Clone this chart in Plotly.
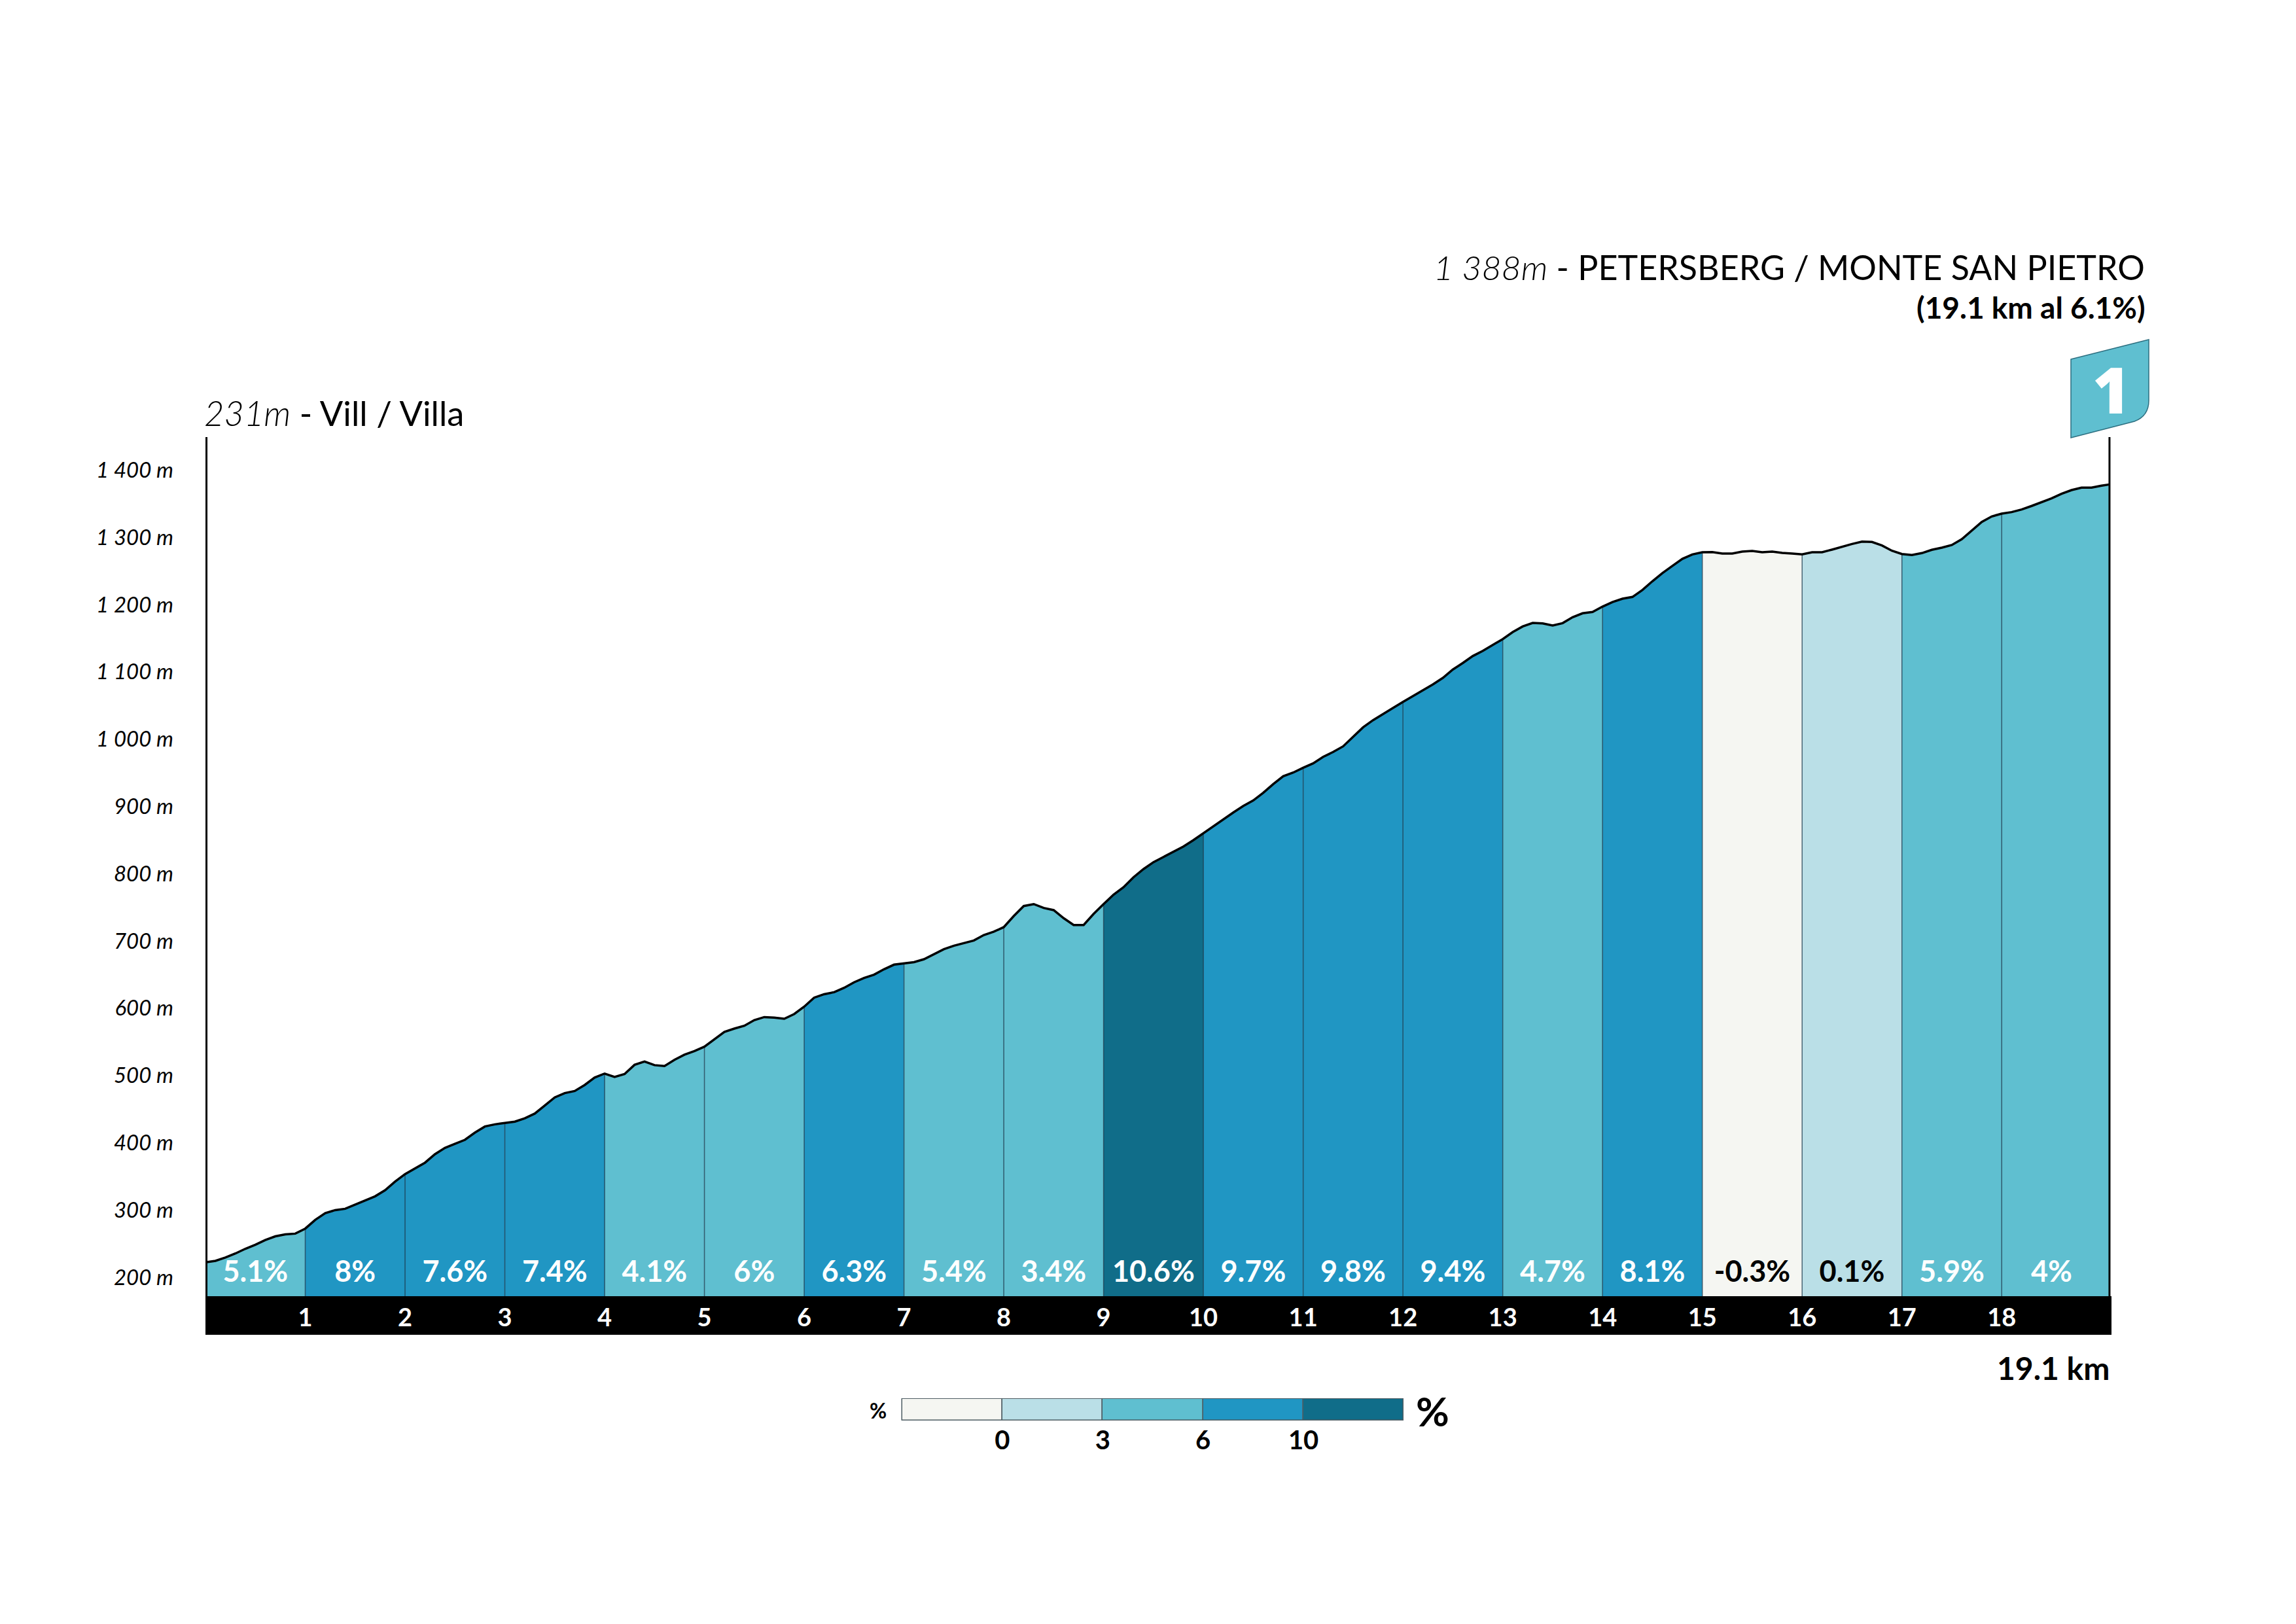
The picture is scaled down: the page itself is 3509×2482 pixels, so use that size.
import plotly.graph_objects as go

W, H = 3509, 2482

ELEV = [
    232, 234, 239, 245, 252, 258, 265, 270.5, 273.5, 274.5,
    282, 295, 305, 309.5, 311.5, 317.7, 324.5, 330, 339, 351.8,
    363, 371.5, 380, 392.6, 402, 408, 414, 424.7, 433.8, 437,
    438.6, 441, 446, 453, 465, 477, 483.5, 486.5, 495.5, 506.5,
    512.5, 507.5, 511.8, 525.5, 530.5, 525, 523.7, 533, 540.5, 546,
    552.5, 563.5, 574.5, 579.4, 583.6, 592, 596.5, 595.7, 594, 601,
    612, 625.4, 630.5, 633.5, 640, 648.2, 654.6, 659.5, 667.6, 674.4,
    676.3, 678.2, 682.5, 690, 697.4, 702.6, 706.5, 710.4, 718.5, 723.4,
    730.2, 746.7, 761.6, 764.5, 758.7, 755.5, 743.5, 733.4, 733.4, 749.9,
    764.5, 778.5, 789.5, 804.4, 816.5, 826.8, 834.5, 842, 850, 859.5,
    869.9, 879.7, 890.4, 900.7, 910.4, 918.6, 929.9, 942.9, 954.6, 960,
    967.2, 973.7, 983.4, 990.6, 999, 1012.6, 1027.2, 1037.9, 1046.5, 1056,
    1065.1, 1073.6, 1082.3, 1091.1, 1100.8, 1113.2, 1122.9, 1133.3, 1141, 1149.4,
    1158.5, 1168.9, 1177.3, 1182.5, 1181.8, 1178.6, 1182.2, 1191, 1196.8, 1198.8,
    1206.8, 1213.6, 1218.5, 1221.1, 1231.5, 1244.5, 1256.5, 1267.2, 1277.8, 1284.3,
    1287.6, 1287.8, 1285.6, 1285.6, 1288.5, 1289.5, 1287.6, 1288.5, 1286.6, 1285.6,
    1284.4, 1287.6, 1287.6, 1291.5, 1296, 1299.9, 1303.4, 1302.8, 1297.6, 1289.8,
    1285, 1283.4, 1286.3, 1291.2, 1294.4, 1298.3, 1307, 1320, 1332.7, 1340.8,
    1345, 1347.3, 1351.2, 1356.4, 1362.2, 1367.7, 1374.5, 1380, 1383.6, 1383.6,
    1386.5, 1388.4,
]
KM = [0.01] + [i / 10 for i in range(1, 191)] + [19.08]

GRADES = [5.1, 8, 7.6, 7.4, 4.1, 6, 6.3, 5.4, 3.4, 10.6, 9.7, 9.8, 9.4, 4.7, 8.1, -0.3, 0.1, 5.9, 4]
BIN_EDGES = [0, 3, 6, 10]
BIN_COLORS = ["#F5F6F2", "#BADFE7", "#5FBFD0", "#2096C3", "#106D89"]
Y_TICKS = [200, 300, 400, 500, 600, 700, 800, 900, 1000, 1100, 1200, 1300, 1400]
Y_LABELS = ["200 m", "300 m", "400 m", "500 m", "600 m", "700 m", "800 m", "900 m",
            "1 000 m", "1 100 m", "1 200 m", "1 300 m", "1 400 m"]
TOTAL_KM = 19.1

FONT = "Lato"

# Pixel layout of the picture
PX_LEFT, PX_RIGHT, PX_TOP, PX_BOTTOM = 314, 3227, 668, 2040
Y_MIN, Y_MAX = 124.1, 1458.8
BASE = 181.5
M_PER_PX = (Y_MAX - Y_MIN) / (PX_BOTTOM - PX_TOP)
LABEL_SHIFT = 10 * M_PER_PX
GRADE_TEXT_Y = 214


def fx(p):
    return p / W


def fy(p):
    return 1 - p / H


def grade_color(g):
    for edge, col in zip(BIN_EDGES, BIN_COLORS):
        if g <= edge:
            return col
    return BIN_COLORS[-1]


fig = go.Figure()

# coloured kilometre segments
for k, g in enumerate(GRADES):
    last = k == len(GRADES) - 1
    xs, ys = [], []
    for x, e in zip(KM, ELEV):
        if k <= x and (x <= k + 1 or last):
            xs.append(x)
            ys.append(e)
    fig.add_trace(go.Scatter(
        x=[xs[0]] + xs + [xs[-1]], y=[BASE] + ys + [BASE],
        mode="lines", fill="toself", fillcolor=grade_color(g),
        line=dict(width=0), hoverinfo="skip", showlegend=False))

# kilometre separators
sep_x, sep_y = [], []
for x, e in zip(KM, ELEV):
    if abs(x - round(x)) < 1e-9 and 1 <= x <= 18:
        sep_x += [x, x, None]
        sep_y += [BASE, e, None]
fig.add_trace(go.Scatter(x=sep_x, y=sep_y, mode="lines",
                         line=dict(color="rgba(25,55,75,0.75)", width=1.5),
                         hoverinfo="skip", showlegend=False))

# profile line
fig.add_trace(go.Scatter(x=KM, y=ELEV, mode="lines",
                         line=dict(color="#000000", width=3.5),
                         hoverinfo="skip", showlegend=False))

# grade labels
fig.add_trace(go.Scatter(
    x=[(i + min(i + 1, KM[-1])) / 2 for i in range(len(GRADES))],
    y=[GRADE_TEXT_Y] * len(GRADES),
    mode="text",
    text=[f"{g:g}%" for g in GRADES],
    textposition="middle center",
    textfont=dict(family=FONT, size=45, weight=700,
                  color=["#000000" if g <= 3 else "#FFFFFF" for g in GRADES]),
    hoverinfo="skip", showlegend=False))

# hidden trace that carries the elevation tick axis
fig.add_trace(go.Scatter(x=[0], y=[200], yaxis="y2", mode="markers",
                         marker=dict(opacity=0), hoverinfo="skip", showlegend=False))

# gradient key
fig.add_trace(go.Bar(
    x=[i + 0.5 for i in range(len(BIN_COLORS))], y=[1] * len(BIN_COLORS),
    width=1, xaxis="x2", yaxis="y3",
    marker=dict(color=BIN_COLORS, line=dict(color="#4d5c63", width=1.5)),
    hoverinfo="skip", showlegend=False))

shapes = [
    dict(type="rect", xref="x", yref="y", x0=0, x1=TOTAL_KM, y0=Y_MIN, y1=BASE,
         fillcolor="#000000", line=dict(width=0), layer="below"),
    dict(type="line", xref="x", yref="y", x0=KM[0], x1=KM[0], y0=BASE, y1=Y_MAX,
         line=dict(color="#000000", width=3)),
    dict(type="line", xref="x", yref="y", x0=KM[-1], x1=KM[-1], y0=BASE, y1=Y_MAX,
         line=dict(color="#000000", width=3)),
    dict(type="path", xref="paper", yref="paper",
         path=(f"M {fx(3165)} {fy(549)} L {fx(3284)} {fy(519)} L {fx(3284)} {fy(612)} "
               f"Q {fx(3284)} {fy(636)} {fx(3262)} {fy(644)} L {fx(3165)} {fy(669)} Z"),
         fillcolor=BIN_COLORS[2], line=dict(color="#2d6f80", width=1.5)),
]


def note(text, x, y, size, anchor="left", color="#000000", weight=400, family=FONT, **kw):
    return dict(text=text, x=fx(x), y=fy(y), xref="paper", yref="paper",
                xanchor=anchor, yanchor="middle", showarrow=False,
                font=dict(family=family, size=size, color=color, weight=weight), **kw)


annotations = [
    note('<i><span style="font-weight:300">231m</span></i> - Vill / Villa', 310, 630, 52.5),
    note('<i><span style="font-weight:300">1 388m</span></i> - PETERSBERG / MONTE SAN PIETRO',
         3280, 408, 52, anchor="right"),
    note("(19.1 km al 6.1%)", 3281, 470, 46, anchor="right", weight=700),
    note("19.1 km", 3226, 2090, 48, anchor="right", weight=700),
    note("1", 3226, 594, 98, anchor="center", color="#FFFFFF", weight=800, family="Open Sans"),
    note("%", 1342, 2155, 32, anchor="center", weight=700),
    note("%", 2189, 2156, 62, anchor="center", weight=700),
]

fig.update_layout(
    width=W, height=H,
    margin=dict(l=0, r=0, t=0, b=0, pad=0, autoexpand=False),
    paper_bgcolor="#FFFFFF", plot_bgcolor="rgba(0,0,0,0)",
    showlegend=False, bargap=0,
    shapes=shapes, annotations=annotations,
    font=dict(family=FONT, color="#000000"),
    xaxis=dict(domain=[fx(PX_LEFT), fx(PX_RIGHT)], range=[0, TOTAL_KM],
               tickmode="array", tickvals=list(range(1, 19)),
               ticktext=[str(i) for i in range(1, 19)],
               ticklabelposition="inside", ticks="", showgrid=False, zeroline=False,
               showline=False, ticklabelstandoff=2,
               tickfont=dict(family=FONT, size=38, color="#FFFFFF", weight=700)),
    yaxis=dict(domain=[fy(PX_BOTTOM), fy(PX_TOP)], range=[Y_MIN, Y_MAX],
               visible=False),
    yaxis2=dict(overlaying="y", side="left", anchor="x",
                range=[Y_MIN - LABEL_SHIFT, Y_MAX - LABEL_SHIFT],
                tickmode="array", tickvals=Y_TICKS, ticktext=Y_LABELS,
                ticks="", showgrid=False, zeroline=False, showline=False,
                ticklabelstandoff=48,
                tickfont=dict(family=FONT, size=33, color="#000000", style="italic", weight=400)),
    xaxis2=dict(domain=[fx(1377), fx(2147)], range=[-0.01, 5.01], anchor="y3",
                tickmode="array", tickvals=[1, 2, 3, 4],
                ticktext=[str(b) for b in BIN_EDGES],
                ticks="", showgrid=False, zeroline=False, showline=False,
                ticklabelstandoff=2,
                tickfont=dict(family=FONT, size=40, color="#000000", weight=700)),
    yaxis3=dict(domain=[fy(2172), fy(2137)], range=[-0.03, 1.03], anchor="x2", visible=False),
)

fig.write_html("out.html", config={"displayModeBar": False},
               post_script="document.body.style.margin='0';")
